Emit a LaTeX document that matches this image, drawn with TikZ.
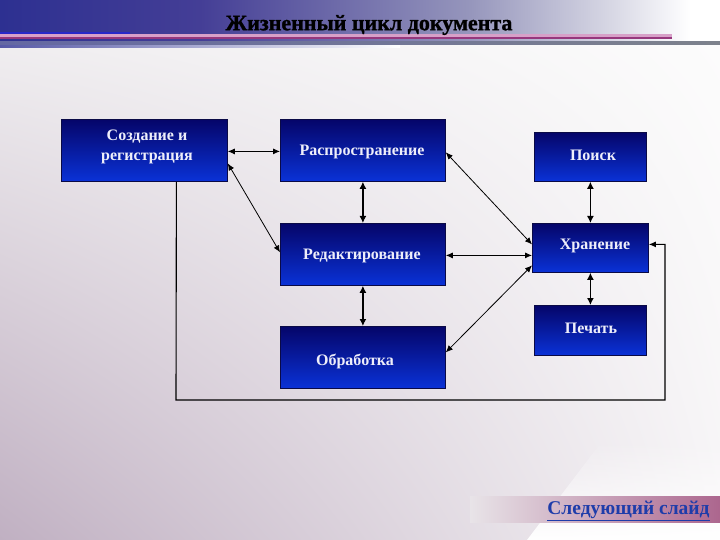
\documentclass[tikz,border=0pt]{standalone}
\usepackage{fontspec}
\setmainfont{Liberation Serif}
\newfontfamily\heavyfont[FakeBold=1.2]{Liberation Serif Bold}
\usetikzlibrary{arrows.meta,fadings,shadings}
\definecolor{boxtop}{RGB}{5,5,105}
\definecolor{boxbot}{RGB}{10,50,215}
\definecolor{boxline}{RGB}{10,10,70}
\definecolor{boxtext}{RGB}{238,238,250}
\definecolor{hdA}{RGB}{45,48,145}
\definecolor{hdB}{RGB}{68,62,150}
\definecolor{hdC}{RGB}{150,150,188}
\definecolor{hdD}{RGB}{215,215,228}
\definecolor{magline}{RGB}{150,55,125}
\definecolor{pinkline}{RGB}{215,160,200}
\definecolor{grayline}{RGB}{125,130,140}
\definecolor{blueline}{RGB}{40,40,200}
\definecolor{bgUL}{RGB}{240,238,240}
\definecolor{bgUR}{RGB}{252,252,252}
\definecolor{bgLL}{RGB}{192,176,194}
\definecolor{bgLR}{RGB}{246,244,246}
\definecolor{bandL}{RGB}{232,228,232}
\definecolor{bandM}{RGB}{205,170,192}
\definecolor{bandR}{RGB}{172,102,142}
\definecolor{linkblue}{RGB}{30,60,170}
\tikzset{
  box/.style={draw=boxline, line width=0.8pt, top color=boxtop, bottom color=boxbot,
    anchor=north west, inner sep=0pt},
  boxtxt/.style={text=boxtext, font=\bfseries\fontsize{16}{20}\selectfont, align=center},
  conn/.style={draw=black, line width=0.8pt, <->, >={Latex[length=7pt,width=6pt]}},
  vconn/.style={draw=black, line width=1.3pt, <->, >={Latex[length=7pt,width=7pt]}},
  loop/.style={draw=black, line width=1.1pt, ->, >={Latex[length=7pt,width=6pt]}}
}
\begin{document}
\begin{tikzpicture}[x=1pt,y=-1pt]
\useasboundingbox (0,0) rectangle (720,540);
% background
\shade[upper left=bgUL, upper right=bgUR, lower left=bgLL, lower right=bgLR] (0,40) rectangle (720,540);
\fill[white, path fading=north] (603,440) -- (720,440) -- (720,540) -- (527,540) -- cycle;
% header band
\shade[left color=hdA, right color=hdB] (0,0) rectangle (200,42);
\shade[left color=hdB, right color=hdC] (200,0) rectangle (470,42);
\shade[left color=hdC, right color=hdD] (470,0) rectangle (610,42);
\shade[left color=hdD, right color=white] (610,0) rectangle (690,42);
\fill[white] (690,0) rectangle (720,42);
\fill[blueline] (0,32.5) rectangle (130,34.5);
\fill[pinkline] (0,34.5) rectangle (672,37);
\fill[magline] (0,37) rectangle (672,39.5);
\shade[left color=grayline!80!blue, right color=grayline] (0,42) rectangle (720,44.5);
\shade[left color=hdA!80, right color=white] (0,45.5) rectangle (400,48);
% title
\node[text=black, font=\heavyfont\fontsize{22}{26}\selectfont] (title) at (369,25) {Жизненный цикл документа};
% bottom band and link
\shade[left color=bandL, middle color=bandM, right color=bandR] (470,496) rectangle (720,522);
\node[text=linkblue, font=\bfseries\fontsize{19.5}{22}\selectfont] (link) at (628.5,511) {\underline{Следующий слайд}};
% boxes
\node[box, minimum width=166pt, minimum height=62pt] (cre) at (61,119) {};
\node[box, minimum width=165pt, minimum height=62pt] (dist) at (280,119) {};
\node[box, minimum width=112pt, minimum height=49pt] (srch) at (534,132) {};
\node[box, minimum width=116pt, minimum height=49pt] (stor) at (532,223) {};
\node[box, minimum width=112pt, minimum height=50pt] (prnt) at (534,305) {};
\node[box, minimum width=165pt, minimum height=62pt] (edit) at (280,223) {};
\node[box, minimum width=165pt, minimum height=62pt] (proc) at (280,326) {};
% box texts
\node[boxtxt] (creT) at (147,147) {Создание и\\регистрация};
\node[boxtxt] (distT) at (362,152) {Распространение};
\node[boxtxt] (srchT) at (593,155) {Поиск};
\node[boxtxt] (storT) at (595,246) {Хранение};
\node[boxtxt] (prntT) at (591,328) {Печать};
\node[boxtxt] (editT) at (362,256) {Редактирование};
\node[boxtxt] (procT) at (355,361) {Обработка};
% connectors
\draw[conn] ([yshift=-1pt]cre.east) -- ([yshift=-1pt]dist.west);
\draw[conn] ([yshift=-13pt]cre.east) -- ([yshift=2pt]edit.west);
\draw[vconn] (dist.south) -- (edit.north);
\draw[vconn] (edit.south) -- (proc.north);
\draw[conn] ([yshift=-2pt]dist.east) -- ([yshift=3.5pt]stor.west);
\draw[conn] ([yshift=-1pt]edit.east) -- ([yshift=-7.5pt]stor.west);
\draw[conn] ([yshift=5pt]proc.east) -- ([yshift=-17.5pt]stor.west);
\draw[vconn] (srch.south) -- (stor.north);
\draw[vconn] (stor.south) -- (prnt.north);
\coordinate (fbA) at (176,400);
\coordinate (fbB) at (665,400);
\draw[loop] ([xshift=32pt]cre.south) -- (fbA) -- (fbB) |- ([yshift=3.5pt]stor.east);
\end{tikzpicture}
\end{document}
